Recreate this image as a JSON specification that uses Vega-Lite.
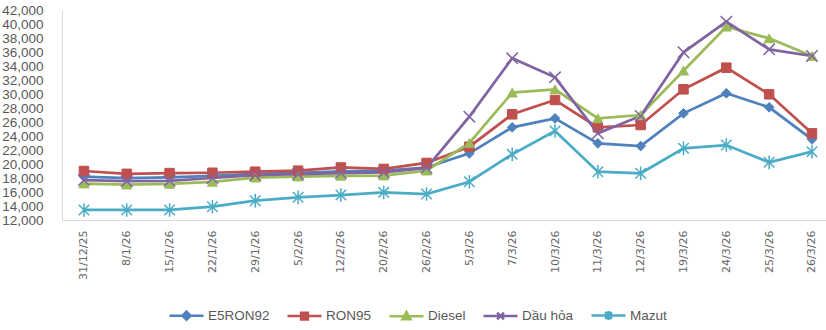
{
  "$schema": "https://vega.github.io/schema/vega-lite/v6.json",
  "autosize": "none",
  "padding": {"left": 62, "top": 10, "right": 0, "bottom": 110},
  "width": 764,
  "height": 210,
  "background": "white",
  "config": {"view": {"stroke": null}},
  "data": {"values": [
    {"d":"31/12/25","s":"E5RON92","v":18200},{"d":"8/1/26","s":"E5RON92","v":18000},{"d":"15/1/26","s":"E5RON92","v":18100},{"d":"22/1/26","s":"E5RON92","v":18300},{"d":"29/1/26","s":"E5RON92","v":18600},{"d":"5/2/26","s":"E5RON92","v":18750},{"d":"12/2/26","s":"E5RON92","v":18950},{"d":"20/2/26","s":"E5RON92","v":19050},{"d":"26/2/26","s":"E5RON92","v":19500},{"d":"5/3/26","s":"E5RON92","v":21520},{"d":"7/3/26","s":"E5RON92","v":25240},{"d":"10/3/26","s":"E5RON92","v":26520},{"d":"11/3/26","s":"E5RON92","v":22950},{"d":"12/3/26","s":"E5RON92","v":22570},{"d":"19/3/26","s":"E5RON92","v":27240},{"d":"24/3/26","s":"E5RON92","v":30100},{"d":"25/3/26","s":"E5RON92","v":28100},{"d":"26/3/26","s":"E5RON92","v":23530},
    {"d":"31/12/25","s":"RON95","v":19000},{"d":"8/1/26","s":"RON95","v":18600},{"d":"15/1/26","s":"RON95","v":18700},{"d":"22/1/26","s":"RON95","v":18750},{"d":"29/1/26","s":"RON95","v":18900},{"d":"5/2/26","s":"RON95","v":19050},{"d":"12/2/26","s":"RON95","v":19500},{"d":"20/2/26","s":"RON95","v":19300},{"d":"26/2/26","s":"RON95","v":20150},{"d":"5/3/26","s":"RON95","v":22470},{"d":"7/3/26","s":"RON95","v":27100},{"d":"10/3/26","s":"RON95","v":29140},{"d":"11/3/26","s":"RON95","v":25240},{"d":"12/3/26","s":"RON95","v":25570},{"d":"19/3/26","s":"RON95","v":30670},{"d":"24/3/26","s":"RON95","v":33760},{"d":"25/3/26","s":"RON95","v":29960},{"d":"26/3/26","s":"RON95","v":24380},
    {"d":"31/12/25","s":"Diesel","v":17200},{"d":"8/1/26","s":"Diesel","v":17050},{"d":"15/1/26","s":"Diesel","v":17150},{"d":"22/1/26","s":"Diesel","v":17450},{"d":"29/1/26","s":"Diesel","v":18050},{"d":"5/2/26","s":"Diesel","v":18200},{"d":"12/2/26","s":"Diesel","v":18300},{"d":"20/2/26","s":"Diesel","v":18350},{"d":"26/2/26","s":"Diesel","v":19050},{"d":"5/3/26","s":"Diesel","v":23000},{"d":"7/3/26","s":"Diesel","v":30190},{"d":"10/3/26","s":"Diesel","v":30670},{"d":"11/3/26","s":"Diesel","v":26520},{"d":"12/3/26","s":"Diesel","v":27000},{"d":"19/3/26","s":"Diesel","v":33330},{"d":"24/3/26","s":"Diesel","v":39610},{"d":"25/3/26","s":"Diesel","v":37950},{"d":"26/3/26","s":"Diesel","v":35430},
    {"d":"31/12/25","s":"Dầu hỏa","v":17700},{"d":"8/1/26","s":"Dầu hỏa","v":17550},{"d":"15/1/26","s":"Dầu hỏa","v":17600},{"d":"22/1/26","s":"Dầu hỏa","v":18000},{"d":"29/1/26","s":"Dầu hỏa","v":18400},{"d":"5/2/26","s":"Dầu hỏa","v":18550},{"d":"12/2/26","s":"Dầu hỏa","v":18700},{"d":"20/2/26","s":"Dầu hỏa","v":18800},{"d":"26/2/26","s":"Dầu hỏa","v":19450},{"d":"5/3/26","s":"Dầu hỏa","v":26760},{"d":"7/3/26","s":"Dầu hỏa","v":35100},{"d":"10/3/26","s":"Dầu hỏa","v":32380},{"d":"11/3/26","s":"Dầu hỏa","v":24380},{"d":"12/3/26","s":"Dầu hỏa","v":26860},{"d":"19/3/26","s":"Dầu hỏa","v":35960},{"d":"24/3/26","s":"Dầu hỏa","v":40330},{"d":"25/3/26","s":"Dầu hỏa","v":36380},{"d":"26/3/26","s":"Dầu hỏa","v":35430},
    {"d":"31/12/25","s":"Mazut","v":13430},{"d":"8/1/26","s":"Mazut","v":13430},{"d":"15/1/26","s":"Mazut","v":13430},{"d":"22/1/26","s":"Mazut","v":13900},{"d":"29/1/26","s":"Mazut","v":14760},{"d":"5/2/26","s":"Mazut","v":15240},{"d":"12/2/26","s":"Mazut","v":15570},{"d":"20/2/26","s":"Mazut","v":15950},{"d":"26/2/26","s":"Mazut","v":15710},{"d":"5/3/26","s":"Mazut","v":17470},{"d":"7/3/26","s":"Mazut","v":21380},{"d":"10/3/26","s":"Mazut","v":24710},{"d":"11/3/26","s":"Mazut","v":18900},{"d":"12/3/26","s":"Mazut","v":18670},{"d":"19/3/26","s":"Mazut","v":22240},{"d":"24/3/26","s":"Mazut","v":22710},{"d":"25/3/26","s":"Mazut","v":20240},{"d":"26/3/26","s":"Mazut","v":21760}
  ]},
  "encoding": {
    "x": {
      "field": "d", "type": "ordinal", "title": null,
      "scale": {"type": "point", "domain": ["31/12/25","8/1/26","15/1/26","22/1/26","29/1/26","5/2/26","12/2/26","20/2/26","26/2/26","5/3/26","7/3/26","10/3/26","11/3/26","12/3/26","19/3/26","24/3/26","25/3/26","26/3/26"], "padding": 0.42, "align": 0.61},
      "axis": {"labelAngle": 270, "labelFont": "DejaVu Sans", "labelFontSize": 11, "labelColor": "#666666", "ticks": false, "domainColor": "#d9d9d9", "domainWidth": 1, "labelPadding": 10, "grid": false}
    },
    "y": {
      "field": "v", "type": "quantitative", "title": null,
      "scale": {"domain": [12000, 42000], "nice": false, "zero": false},
      "axis": {"values": [12000,14000,16000,18000,20000,22000,24000,26000,28000,30000,32000,34000,36000,38000,40000,42000], "labelExpr": "format(datum.value, ',.0f')", "labelFont": "Liberation Sans", "labelFontSize": 13.5, "labelColor": "#595959", "ticks": false, "grid": false, "domainColor": "#d9d9d9", "domainWidth": 1, "labelPadding": 19}
    },
    "color": {"field": "s", "type": "nominal", "title": null,
      "scale": {"domain": ["E5RON92","RON95","Diesel","Dầu hỏa","Mazut"], "range": ["#4F81BD","#C0504D","#9BBB59","#8064A2","#4BACC6"]},
      "legend": {"orient": "none", "legendX": 106, "legendY": 287, "direction": "horizontal", "columns": 5, "padding": 0, "symbolSize": 1156, "symbolStrokeWidth": 2.5, "labelOffset": 3, "columnPadding": 12, "labelFont": "Liberation Sans", "labelFontSize": 13.5, "labelColor": "#595959"}
    }
  },
  "layer": [
    {"mark": {"type": "line", "strokeWidth": 2.75}},
    {"transform": [{"filter": "datum.s === 'E5RON92'"}], "mark": {"type": "point", "shape": "diamond", "filled": true, "size": 95, "opacity": 1, "stroke": "#4F81BD", "strokeWidth": 1}},
    {"transform": [{"filter": "datum.s === 'RON95'"}], "mark": {"type": "point", "shape": "square", "filled": true, "size": 90, "opacity": 1, "stroke": "#C0504D", "strokeWidth": 1}},
    {"transform": [{"filter": "datum.s === 'Diesel'"}], "mark": {"type": "point", "shape": "triangle-up", "filled": true, "size": 100, "opacity": 1, "stroke": "#9BBB59", "strokeWidth": 1}},
    {"transform": [{"filter": "datum.s === 'Dầu hỏa'"}], "mark": {"type": "point", "shape": "M-1,-1L1,1M-1,1L1,-1", "filled": false, "size": 130, "opacity": 1, "strokeWidth": 1.5}},
    {"transform": [{"filter": "datum.s === 'Mazut'"}], "mark": {"type": "point", "shape": "M-1,-1L1,1M-1,1L1,-1M0,-1.3L0,1.3", "filled": false, "size": 110, "opacity": 1, "strokeWidth": 1.5}},
    {
      "transform": [{"filter": "false"}],
      "mark": {"type": "point", "filled": true, "opacity": 1, "strokeWidth": 2.5},
      "encoding": {
        "stroke": {"field": "s", "type": "nominal", "title": null,
          "scale": {"domain": ["E5RON92","RON95","Diesel","Dầu hỏa","Mazut"], "range": ["#4F81BD","#C0504D","#9BBB59","#8064A2","#4BACC6"]}},
        "shape": {"field": "s", "type": "nominal", "title": null,
          "scale": {"domain": ["E5RON92","RON95","Diesel","Dầu hỏa","Mazut"], "range": ["M-1,0L1,0M0,-0.24L0.24,0L0,0.24L-0.24,0Z", "M-1,0L1,0M-0.2,-0.2L0.2,-0.2L0.2,0.2L-0.2,0.2Z", "M-1,0L1,0M0,-0.24L0.24,0.18L-0.24,0.18Z", "M-1,0L1,0M-0.2,-0.2L0.2,0.2M-0.2,0.2L0.2,-0.2", "M-1,0L1,0M-0.2,-0.2L0.2,0.2M-0.2,0.2L0.2,-0.2M0,-0.26L0,0.26"]}}
      }
    }
  ]
}
